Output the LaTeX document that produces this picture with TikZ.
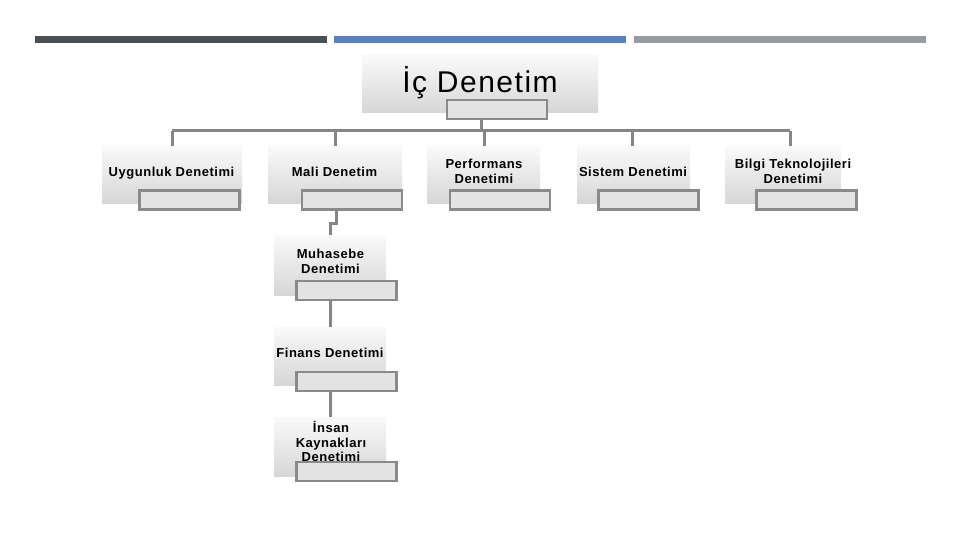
\documentclass[tikz,border=0pt]{standalone}
\usepackage{fontspec}
\setmainfont{Liberation Sans}
\definecolor{barA}{HTML}{475053}
\definecolor{barB}{HTML}{5B80C5}
\definecolor{barC}{HTML}{959CA3}
\definecolor{gtop}{HTML}{FAFAFA}
\definecolor{gbot}{HTML}{D6D6D6}
\definecolor{smfill}{HTML}{E3E3E3}
\definecolor{smline}{HTML}{8A8A8A}
\definecolor{conn}{HTML}{858585}
\tikzset{
  gbox/.style={shade, top color=gtop, bottom color=gbot, draw=none, inner sep=0pt},
  smbox/.style={fill=smfill, draw=smline, line width=2.2pt, inner sep=0pt, minimum width=100pt, minimum height=19pt},
  lbl/.style={inner sep=0pt, align=center, font=\fontsize{13}{15}\selectfont\bfseries\addfontfeature{LetterSpace=4}},
  ttl/.style={inner sep=0pt, font=\fontsize{30}{34}\selectfont\addfontfeature{LetterSpace=5}},
  link/.style={draw=conn, line width=3pt},
  bar/.style={draw=none, inner sep=0pt, minimum height=7pt, minimum width=292pt}
}
\begin{document}
\begin{tikzpicture}[x=1pt,y=-1pt]
\useasboundingbox (0,0) rectangle (960,540);
% top bars
\node[bar, fill=barA] (barone) at (181,39.5) {};
\node[bar, fill=barB] (bartwo) at (480,39.5) {};
\node[bar, fill=barC] (barthree) at (779.5,39.5) {};
% gradient boxes
\node[gbox, minimum width=236pt, minimum height=58pt] (top) at (480,84) {};
\node[gbox, minimum width=140pt, minimum height=57pt] (g1) at (172,174.5) {};
\node[gbox, minimum width=134pt, minimum height=57pt] (g2) at (335,174.5) {};
\node[gbox, minimum width=113pt, minimum height=57pt] (g3) at (483.5,174.5) {};
\node[gbox, minimum width=113pt, minimum height=57pt] (g4) at (633.5,174.5) {};
\node[gbox, minimum width=116pt, minimum height=57pt] (g5) at (783,174.5) {};
\node[gbox, minimum width=112pt, minimum height=60pt] (gm) at (330,265) {};
\node[gbox, minimum width=112pt, minimum height=58pt] (gf) at (330,356) {};
\node[gbox, minimum width=112pt, minimum height=59pt] (gi) at (330,446.5) {};
% texts
\node[ttl, anchor=base] (ttop) at (480,93) {İç Denetim};
\node[lbl, anchor=base] (t1) at (171.5,176) {Uygunluk Denetimi};
\node[lbl, anchor=base] (t2) at (334.5,177) {Mali Denetim};
\node[lbl] (t3) at (484,171.5) {Performans\\Denetimi};
\node[lbl, anchor=base] (t4) at (633,177) {Sistem Denetimi};
\node[lbl] (t5) at (793,171.5) {Bilgi Teknolojileri\\Denetimi};
\node[lbl] (tm) at (330.5,261) {Muhasebe\\Denetimi};
\node[lbl, anchor=base] (tf) at (330,357) {Finans Denetimi};
\node[lbl, font=\fontsize{13}{14.5}\selectfont\bfseries\addfontfeature{LetterSpace=4}] (ti) at (331,441.5) {İnsan\\Kaynakları\\Denetimi};
% small boxes
\node[smbox] (s0) at (497,109.5) {};
\node[smbox] (s1) at (189.5,200) {};
\node[smbox] (s2) at (352,200) {};
\node[smbox] (s3) at (500,200) {};
\node[smbox] (s4) at (648.5,200) {};
\node[smbox] (s5) at (806.5,200) {};
\node[smbox] (sm) at (346.5,290.5) {};
\node[smbox] (sf) at (346.5,381.5) {};
\node[smbox] (si) at (346.5,471.5) {};
% connectors
\coordinate (b0) at (481,131);
\coordinate (b1) at (172,131);
\coordinate (b2) at (335,131);
\coordinate (b3) at (484,131);
\coordinate (b4) at (632,131);
\coordinate (b5) at (790,131);
\draw[link] (b0 |- s0.south) -- (b0);
\draw[link] (b1) -- (b5);
\draw[link] (b1) -- (b1 |- g1.north);
\draw[link] (b2) -- (b2 |- g2.north);
\draw[link] (b3) -- (b3 |- g3.north);
\draw[link] (b4) -- (b4 |- g4.north);
\draw[link] (b5) -- (b5 |- g5.north);
\coordinate (k1) at (336,223);
\coordinate (k2) at (330,223);
\draw[link] (k1 |- s2.south) -- (k1) -- (k2) -- (k2 |- gm.north);
\draw[link] (k2 |- sm.south) -- (k2 |- gf.north);
\draw[link] (k2 |- sf.south) -- (k2 |- gi.north);
\end{tikzpicture}
\end{document}
